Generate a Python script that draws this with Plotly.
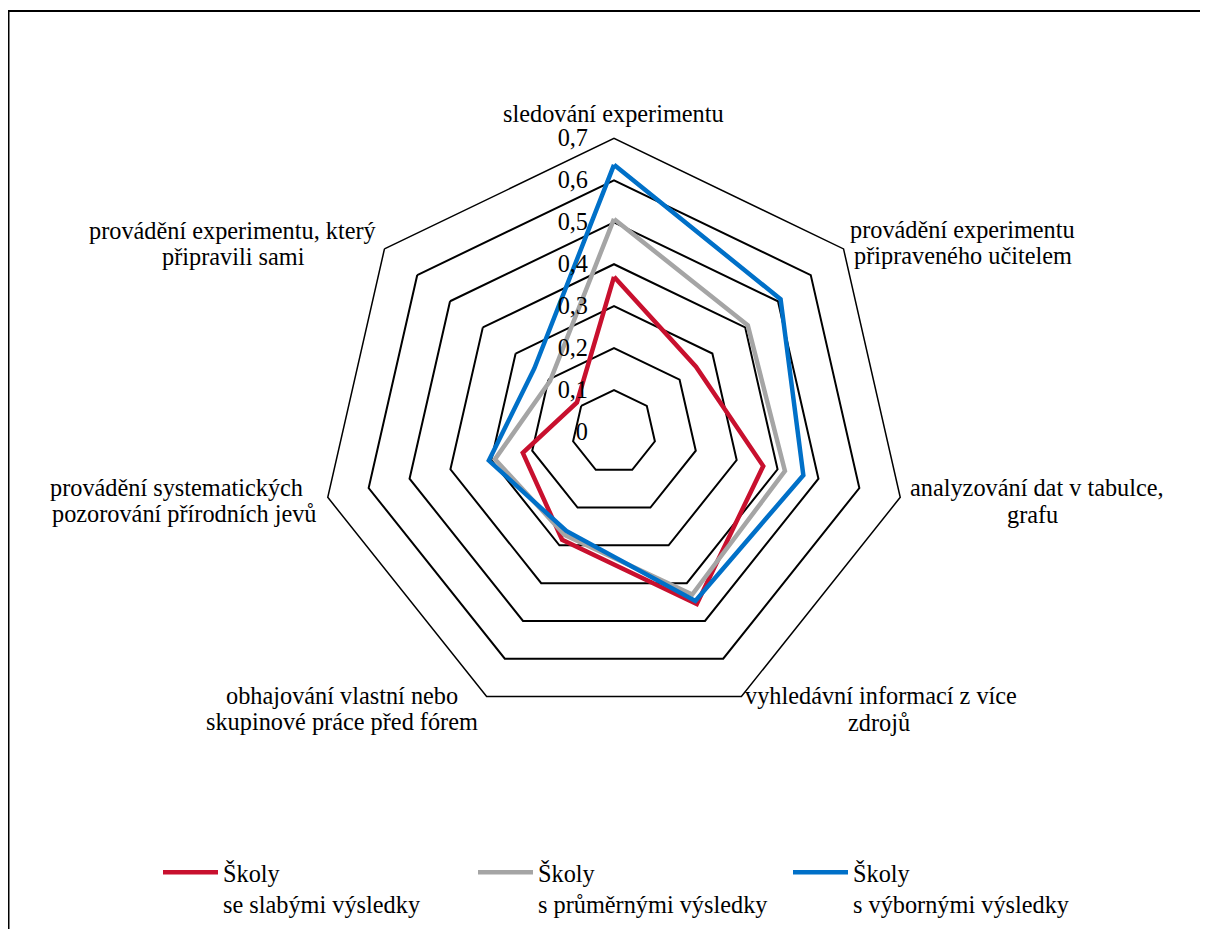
import plotly.graph_objects as go

categories = [
    "sledování experimentu",
    "provádění experimentu<br>připraveného učitelem",
    "analyzování dat v tabulce,<br>grafu",
    "vyhledávní informací z více<br>zdrojů",
    "obhajování vlastní nebo<br>skupinové práce před fórem",
    "provádění systematických<br>pozorování přírodních jevů",
    "provádění experimentu, který<br>připravili sami",
]
series_names = [
    "Školy<br>se slabými výsledky",
    "Školy<br>s průměrnými výsledky",
    "Školy<br>s výbornými výsledky",
]
weak = [0.37, 0.25, 0.365, 0.455, 0.285, 0.223, 0.113]
average = [0.508, 0.408, 0.418, 0.43, 0.272, 0.291, 0.195]
excellent = [0.637, 0.508, 0.463, 0.447, 0.262, 0.306, 0.243]
colors = ["#C8102E", "#A5A5A5", "#0070C8"]

# page has an 8px body margin; the figure fills the rest of the 1208x929 window
OFF = 8
W, H = 1208 - OFF, 929 - OFF
FONT = "Liberation Serif"
FS = 24.3

def px(x):
    return (x - OFF) / W

def py(y):
    return 1 - (y - OFF) / H

fig = go.Figure()
for name, vals, col in zip(series_names, [weak, average, excellent], colors):
    fig.add_trace(go.Scatterpolar(
        r=vals + [vals[0]],
        theta=categories + [categories[0]],
        mode="lines",
        name=name,
        line=dict(color=col, width=4.5),
    ))

cx, cy, R = 614, 432, 293.6
fig.update_layout(
    width=W, height=H,
    margin=dict(l=0, r=0, t=0, b=0),
    paper_bgcolor="white",
    plot_bgcolor="white",
    separators=", ",
    font=dict(family=FONT, size=FS, color="black"),
    showlegend=True,
    polar=dict(
        domain=dict(x=[px(cx - R), px(cx + R)], y=[py(cy + R), py(cy - R)]),
        bgcolor="white",
        gridshape="linear",
        radialaxis=dict(
            range=[0, 0.7], tick0=0, dtick=0.1,
            angle=90, tickangle=90,
            side="counterclockwise",
            showline=False,
            gridcolor="black", gridwidth=1.5,
            ticks="outside", ticklen=17, tickcolor="rgba(0,0,0,0)",
            tickfont=dict(family=FONT, size=FS, color="black"),
        ),
        angularaxis=dict(
            type="category",
            categoryorder="array",
            categoryarray=categories,
            direction="clockwise",
            rotation=90,
            showgrid=False,
            showticklabels=False,
            showline=True, linecolor="black", linewidth=1.5,
            ticks="",
        ),
    ),
    legend=dict(
        orientation="h",
        x=px(158), y=py(850), xanchor="left", yanchor="top",
        valign="top",
        itemwidth=55,
        entrywidth=245,
        font=dict(family=FONT, size=FS, color="black"),
        bgcolor="rgba(0,0,0,0)",
    ),
)

# centre of each text line of the category labels (screen pixels)
label_line_pos = [
    [(613.5, 113)],
    [(962.5, 229), (963, 255)],
    [(1036.5, 487), (1032.5, 514)],
    [(881, 695), (879, 722)],
    [(342, 695), (342, 721)],
    [(176, 487), (184.5, 513)],
    [(233, 230), (233.5, 256)],
]
for text, positions in zip(categories, label_line_pos):
    for line, (x, y) in zip(text.split("<br>"), positions):
        fig.add_annotation(
            x=px(x), y=py(y), xref="paper", yref="paper",
            text=line, showarrow=False, align="center",
            xanchor="center", yanchor="middle",
            font=dict(family=FONT, size=FS, color="black"),
        )

# chart area border
fig.add_shape(type="rect", xref="paper", yref="paper",
              x0=px(8.5), y0=-0.02, x1=1.02, y1=py(11),
              line=dict(color="black", width=2), fillcolor="rgba(0,0,0,0)")

fig.write_html("out.html")
